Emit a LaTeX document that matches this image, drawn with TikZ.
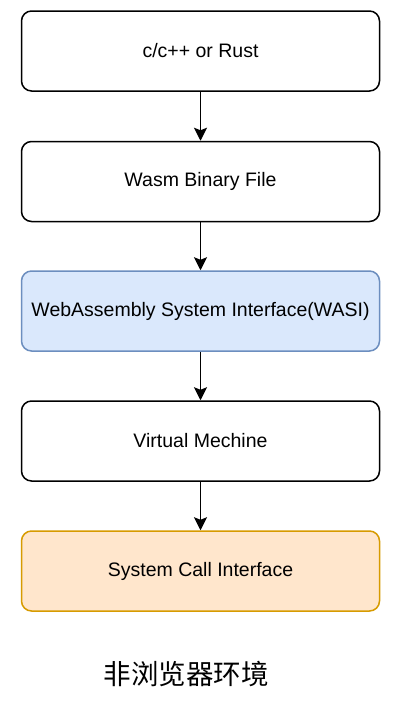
\documentclass[tikz,border=0pt]{standalone}
\usepackage{fontspec}
\setmainfont{Liberation Sans}
\newfontfamily\cjk{Noto Sans CJK SC}
\usetikzlibrary{arrows.meta}
\definecolor{bluefill}{HTML}{DAE8FC}
\definecolor{bluedraw}{HTML}{6C8EBF}
\definecolor{orangefill}{HTML}{FFE6CC}
\definecolor{orangedraw}{HTML}{D79B00}
\begin{document}
\begin{tikzpicture}[x=1pt,y=-1pt,
  box/.style={draw, rounded corners=10pt, line width=1.5pt, minimum width=358pt,
    minimum height=80pt, inner sep=0pt, fill=white, font=\fontsize{19.5}{23}\selectfont},
  arr/.style={-{Stealth[length=13pt,width=13pt,inset=2.5pt]}, line width=1.6pt}]
\useasboundingbox[fill=white] (0,0) rectangle (400,710);
\node[box] (src) at (200.5,51) {c/c++ or Rust};
\node[box] (wasm) at (200.5,181.5) {Wasm Binary File};
\node[box, fill=bluefill, draw=bluedraw] (wasi) at (200.5,311) {WebAssembly System Interface(WASI)};
\node[box] (vm) at (200.5,441) {Virtual Mechine};
\node[box, fill=orangefill, draw=orangedraw] (sci) at (200.5,571) {System Call Interface};
\draw[arr] (src) -- (wasm);
\draw[arr] (wasm) -- (wasi);
\draw[arr] (wasi) -- (vm);
\draw[arr] (vm) -- (sci);
\node[font=\cjk\fontsize{27.5}{30}\selectfont, inner sep=0pt] (title) at (186,674) {非浏览器环境};
\end{tikzpicture}
\end{document}
